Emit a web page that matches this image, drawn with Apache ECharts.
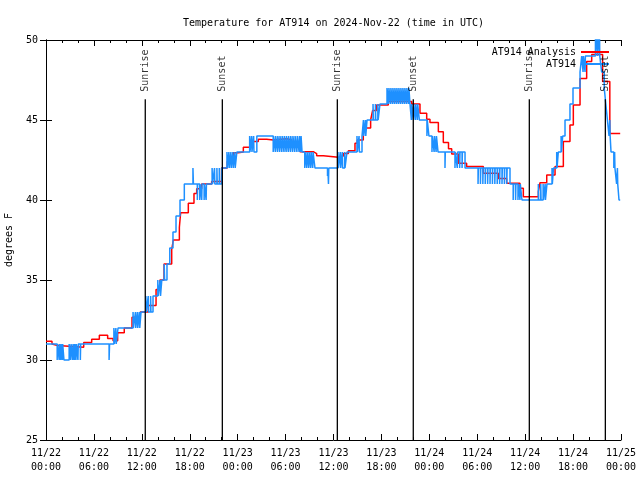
<!DOCTYPE html>
<html><head><meta charset="utf-8">
<script src="https://cdn.jsdelivr.net/npm/echarts@6/dist/echarts.min.js"></script>
<style>html,body{margin:0;padding:0;background:#fff}#c{width:640px;height:480px}</style>
</head><body><div id="c"></div>
<script>
const titleText = 'Temperature for AT914 on 2024-Nov-22 (time in UTC)';
const yAxisName = 'degrees F';
// x in hours since 11/22 00:00 UTC
const xTickLabels = ['11/22\n00:00','11/22\n06:00','11/22\n12:00','11/22\n18:00','11/23\n00:00','11/23\n06:00','11/23\n12:00','11/23\n18:00','11/24\n00:00','11/24\n06:00','11/24\n12:00','11/24\n18:00','11/25\n00:00'];
const seriesNames = ['AT914 Analysis', 'AT914'];

const analysisData = [
[0,31.17],[0.75,31.0],[0.92,30.9],[1.46,30.8],[4.72,31.1],[5.72,31.3],[6.68,31.55],[7.72,31.35],[8.4,31.2],[8.97,31.7],[9.8,32.0],[10.77,32.67],[11.8,33.0],[12.81,33.4],[13.78,34.4],[14.27,35.0],[14.78,36.0],[15.74,36.9],[15.94,37.5],[16.7,38.3],[16.86,39.2],[17.82,39.8],[18.53,40.4],[18.87,40.7],[19.49,41.0],[20.74,41.15],[21.99,42.0],[22.7,42.4],[22.96,42.7],[23.46,42.96],[24.08,43.0],[24.71,43.3],[25.54,43.65],[26.59,43.8],[27.63,43.75],[28.47,43.83],[30.14,43.75],[30.76,43.56],[31.39,43.44],[31.8,43.02],[33.47,42.9],[33.89,42.77],[34.73,42.67],[36.6,42.75],[37.23,42.9],[37.86,43.08],[38.69,43.54],[38.98,43.75],[39.73,44.17],[39.94,44.5],[40.65,45.0],[40.9,45.6],[41.4,45.94],[42.86,46.15],[45.79,46.0],[46.83,45.42],[47.67,45.04],[48.08,44.85],[49.13,44.27],[49.75,43.6],[50.4,43.2],[50.8,42.88],[51.63,42.29],[52.67,42.1],[54.76,41.67],[56.64,41.35],[57.68,41.04],[59.35,40.73],[59.77,40.2],[61.65,40.52],[61.86,41.08],[62.7,41.56],[63.74,42.1],[64.78,43.65],[65.61,44.69],[66.03,45.94],[66.87,47.6],[67.7,48.65],[68.33,49.1],[69.7,47.4],[70.6,44.15],[71.9,44.15]
];

const obsData = [
[0,31],[1.4,30],[1.44,31],[1.65,30],[1.69,31],[1.85,30],[1.89,31],[2.05,30],[2.09,31],[2.25,30],
[2.9,31],[3.1,30],[3.14,31],[3.35,30],[3.39,31],[3.55,30],[3.59,31],[3.75,30],[3.79,31],[4.0,30],[4.04,31],[4.3,30],[4.34,31],
[7.9,30],[7.96,31],
[8.5,32],[8.55,31],[8.75,32],[8.79,31],[9.02,32],
[10.9,33],[10.95,32],[11.2,33],[11.24,32],[11.45,33],[11.49,32],[11.7,33],[11.74,32],[11.9,33],
[12.5,34],[12.55,33],[12.8,34],[12.84,33],[13.1,34],[13.14,33],[13.4,34],
[14.0,35],[14.05,34],[14.3,35],[14.34,34],[14.5,35],
[14.8,36],[14.85,35],[15.15,36],
[15.5,37],[15.9,38],[16.28,39],[16.78,40],[17.32,41],
[18.4,42],[18.46,41],
[18.95,40],[18.99,41],[19.25,40],[19.29,41],[19.5,40],[19.54,41],[19.8,40],[19.84,41],[20.05,40],[20.09,41],
[20.8,42],[20.85,41],[21.1,42],[21.14,41],[21.4,42],[21.44,41],[21.7,42],[21.74,41],[22.0,42],
[22.66,43],[22.7,42],[22.9,43],[22.94,42],[23.15,43],[23.19,42],[23.4,43],[23.44,42],[23.65,43],[23.69,42],[23.9,43],
[25.5,44],[25.54,43],[25.75,44],[25.79,43],[26.0,44],[26.04,43],[26.4,44],
[28.45,43],[28.49,44],[28.72,43],[28.76,44],[28.99,43],[29.03,44],[29.26,43],[29.3,44],[29.53,43],[29.57,44],[29.8,43],[29.84,44],[30.07,43],[30.11,44],[30.34,43],[30.38,44],[30.61,43],[30.65,44],[30.88,43],[30.92,44],[31.15,43],[31.19,44],[31.42,43],[31.46,44],[31.69,43],[31.73,44],[31.9,43],[31.94,44],[32.06,43],
[32.4,42],[32.44,43],[32.65,42],[32.69,43],[32.9,42],[32.94,43],[33.15,42],[33.19,43],[33.4,42],[33.44,43],[33.68,42],
[35.25,41.5],[35.29,42],[35.37,41],[35.41,42],
[36.56,43],[36.6,42],[36.85,43],[36.89,42],[37.1,43],[37.14,42],[37.4,43],[37.44,42],[37.69,43],
[38.94,44],[38.98,43],[39.2,44],[39.24,43],[39.57,44],
[39.75,45],[39.79,44],[40.0,45],[40.04,44],[40.2,45],
[40.95,46],[40.99,45],[41.25,46],[41.29,45],[41.55,46],[41.59,45],[41.82,46],
[42.7,47],[42.9,46],[42.94,47],[43.15,46],[43.19,47],[43.4,46],[43.44,47],[43.65,46],[43.69,47],[43.9,46],[43.94,47],[44.15,46],[44.19,47],[44.4,46],[44.44,47],[44.65,46],[44.69,47],[44.9,46],[44.94,47],[45.15,46],[45.19,47],[45.4,46],[45.44,47],[45.58,46],
[45.75,45],[45.79,46],[46.0,45],[46.04,46],[46.25,45],[46.29,46],[46.5,45],[46.54,46],[46.75,45],
[47.7,44],[47.74,45],[47.95,44],
[48.33,43],[48.37,44],[48.6,43],[48.64,44],[48.85,43],[48.89,44],[49.09,43],
[49.96,42],[50.0,43],
[51.21,42],[51.25,43],[51.5,42],[51.54,43],[51.8,42],[51.84,43],[52.1,42],[52.14,43],[52.47,42],
[54.1,41],[54.14,42],[54.4,41],[54.44,42],[54.7,41],[54.74,42],[55.0,41],[55.04,42],[55.3,41],[55.34,42],[55.6,41],[55.64,42],[55.9,41],[55.94,42],[56.2,41],[56.24,42],[56.5,41],[56.54,42],[56.8,41],[56.84,42],[57.1,41],[57.14,42],[57.4,41],[57.44,42],[57.7,41],[57.74,42],[58.1,41],
[58.5,40],[58.54,41],[58.8,40],[58.84,41],[59.1,40],[59.14,41],[59.35,40],[59.39,41],[59.6,40],
[61.65,41],[61.69,40],[61.95,41],[61.99,40],[62.25,41],[62.29,40],[62.5,41],[62.54,40],[62.73,41],
[63.36,42],[63.4,41],[63.55,42],[63.95,43],[63.99,42],[64.15,43],[64.5,44],[64.54,43],[64.7,44],[64.99,45],[65.61,46],[65.99,47],[66.87,48],[67.08,49],[67.25,48],[67.29,49],[67.5,48],[67.54,49],
[68.8,51],[68.84,49],[69.05,51],[69.09,49],[69.3,51],[69.34,49],
[69.58,48],[69.9,47],[70.1,46],[70.3,45],[70.5,44],[70.6,45],[70.64,44],[70.75,43],[71.1,42],[71.2,43],[71.24,42],[71.45,41],[71.55,42],[71.59,41],[71.75,40],[71.9,40]
];

const sunHours = [12.43, 22.08, 36.48, 45.99, 60.52, 70.04];
const sunLabels = ['Sunrise', 'Sunset', 'Sunrise', 'Sunset', 'Sunrise', 'Sunset'];
const sunLineBottom = 25;
const sunLineTop = 46.3;

const FONT = "'DejaVu Sans Mono', monospace";
const chart = echarts.init(document.getElementById('c'), null, {renderer: 'canvas'});

const series = [
  {
    name: seriesNames[0], type: 'line', step: 'end', symbol: 'none', data: analysisData,
    lineStyle: {color: '#ff0000', width: 1.5}, itemStyle: {color: '#ff0000'}, z: 2, silent: true
  },
  {
    name: seriesNames[1], type: 'line', step: 'end', symbol: 'none', data: obsData,
    lineStyle: {color: '#1e90ff', width: 1.5}, itemStyle: {color: '#1e90ff'}, z: 3, silent: true
  }
];
sunHours.forEach(function (t) {
  series.push({
    type: 'line', symbol: 'none', silent: true, z: 4,
    data: [[t, sunLineBottom], [t, sunLineTop]],
    lineStyle: {color: '#000', width: 1.3}
  });
});
series.push({
  type: 'scatter', silent: true, z: 5, symbolSize: 1,
  itemStyle: {color: 'rgba(0,0,0,0)'},
  data: sunHours.map(function (t) { return [t, sunLineTop]; }),
  label: {
    show: true, position: 'top', distance: 7, rotate: 90, align: 'left', verticalAlign: 'middle',
    fontFamily: FONT, fontSize: 10, color: '#000',
    formatter: function (p) { return sunLabels[p.dataIndex]; }
  }
});

const axisBase = {
  axisLine: {show: true, lineStyle: {color: '#000', width: 1}},
  splitLine: {show: false}
};

chart.setOption({
  animation: false,
  backgroundColor: '#fff',
  title: {
    text: titleText, left: 178, top: 13,
    textStyle: {fontFamily: FONT, fontSize: 10, fontWeight: 'normal', color: '#000'}
  },
  legend: [
    {data: [seriesNames[0]], right: 26, top: 42, orient: 'vertical', align: 'right', icon: 'rect',
     itemWidth: 28, itemHeight: 2, selectedMode: false,
     textStyle: {fontFamily: FONT, fontSize: 10, color: '#000'}},
    {data: [seriesNames[1]], right: 26, top: 54, orient: 'vertical', align: 'right', icon: 'rect',
     itemWidth: 28, itemHeight: 2, selectedMode: false,
     textStyle: {fontFamily: FONT, fontSize: 10, color: '#000'}}
  ],
  grid: {left: 46, right: 19, top: 40, bottom: 40, containLabel: false, outerBoundsMode: 'none'},
  xAxis: [
    Object.assign({}, axisBase, {
      type: 'value', position: 'bottom', min: 0, max: 72, interval: 6,
      axisTick: {show: true, inside: true, length: 6, lineStyle: {color: '#000'}},
      minorTick: {show: true, splitNumber: 3, length: 3, lineStyle: {color: '#000'}},
      axisLabel: {show: true, margin: 6, fontFamily: FONT, fontSize: 10, color: '#000', lineHeight: 14,
        formatter: function (v) { return xTickLabels[Math.round(v / 6)]; }}
    }),
    Object.assign({}, axisBase, {
      type: 'value', position: 'top', min: 0, max: 72, interval: 6,
      axisTick: {show: true, inside: true, length: 6, lineStyle: {color: '#000'}},
      minorTick: {show: true, splitNumber: 3, length: 3, lineStyle: {color: '#000'}},
      axisLabel: {show: false}
    })
  ],
  yAxis: [
    Object.assign({}, axisBase, {
      type: 'value', position: 'left', min: 25, max: 50, interval: 5,
      name: yAxisName, nameLocation: 'middle', nameRotate: 90, nameGap: 32,
      nameTextStyle: {fontFamily: FONT, fontSize: 10, color: '#000'},
      axisTick: {show: true, inside: true, length: 6, lineStyle: {color: '#000'}},
      axisLabel: {show: true, margin: 8, fontFamily: FONT, fontSize: 10, color: '#000'}
    }),
    Object.assign({}, axisBase, {
      type: 'value', position: 'right', min: 25, max: 50, interval: 5,
      axisTick: {show: true, inside: true, length: 6, lineStyle: {color: '#000'}},
      axisLabel: {show: false}
    })
  ],
  series: series
});
</script>
</body></html>
